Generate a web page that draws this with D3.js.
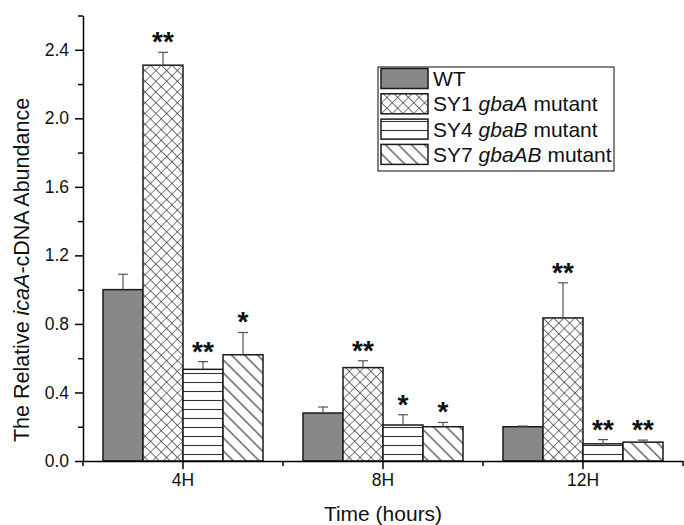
<html>
<head>
<meta charset="utf-8" />
<script src="https://cdn.jsdelivr.net/npm/d3@7"></script>
<style>
  body { margin: 0; background: white; }
  text { font-family: "Liberation Sans", Arial, sans-serif; }
</style>
</head>
<body>
<div id="chart"></div>
<script>
// valeurs
const groups = ["4H", "8H", "12H"];
const seriesKeys = ["WT", "SY1", "SY4", "SY7"];
const seriesLabels = [
  ["WT", "", ""],
  ["SY1 ", "gbaA", " mutant"],
  ["SY4 ", "gbaB", " mutant"],
  ["SY7 ", "gbaAB", " mutant"]
];
const valWT  = [1.00, 0.28, 0.20];
const valSY1 = [2.31, 0.545, 0.835];
const valSY4 = [0.535, 0.21, 0.10];
const valSY7 = [0.62, 0.20, 0.11];
const errWT  = [0.09, 0.035, 0.004];
const errSY1 = [0.075, 0.04, 0.205];
const errSY4 = [0.045, 0.06, 0.025];
const errSY7 = [0.13, 0.025, 0.012];
const starWT  = ["", "", ""];
const starSY1 = ["**", "**", "**"];
const starSY4 = ["**", "*", "**"];
const starSY7 = ["*", "*", "**"];
const yMajor = [0, 0.4, 0.8, 1.2, 1.6, 2.0, 2.4];
const yMinor = [0.2, 0.6, 1.0, 1.4, 1.8, 2.2, 2.6];

const values = [valWT, valSY1, valSY4, valSY7];
const errors = [errWT, errSY1, errSY4, errSY7];
const stars  = [starWT, starSY1, starSY4, starSY7];
const fills  = ["#888888", "url(#cross)", "url(#horiz)", "url(#diag)"];

const width = 684, height = 525;
const mLeft = 83, mRight = 683, mTop = 15.5, mBottom = 461;

const svg = d3.select("#chart").append("svg")
  .attr("width", width).attr("height", height);

// motifs de hachures
const defs = svg.append("defs");
const pCross = defs.append("pattern").attr("id", "cross")
  .attr("patternUnits", "userSpaceOnUse").attr("width", 7.6).attr("height", 7.6)
  .attr("patternTransform", "rotate(45)");
pCross.append("rect").attr("width", 7.6).attr("height", 7.6).attr("fill", "white");
pCross.append("path").attr("d", "M0,0 H7.6 M0,0 V7.6")
  .attr("stroke", "#333").attr("stroke-width", 1.2);

const pHoriz = defs.append("pattern").attr("id", "horiz")
  .attr("patternUnits", "userSpaceOnUse").attr("width", 10).attr("height", 9);
pHoriz.append("rect").attr("width", 10).attr("height", 9).attr("fill", "white");
pHoriz.append("path").attr("d", "M0,4.5 H10")
  .attr("stroke", "#333").attr("stroke-width", 1.1);

const pDiag = defs.append("pattern").attr("id", "diag")
  .attr("patternUnits", "userSpaceOnUse").attr("width", 9.2).attr("height", 9.2)
  .attr("patternTransform", "rotate(45)");
pDiag.append("rect").attr("width", 9.2).attr("height", 9.2).attr("fill", "white");
pDiag.append("path").attr("d", "M0,4.6 H9.2")
  .attr("stroke", "#333").attr("stroke-width", 1.1);

// echelles
const x0 = d3.scaleBand().domain(groups).range([mLeft, mRight]).padding(0);
const x1 = d3.scaleBand().domain(seriesKeys).range([0, x0.bandwidth()])
  .paddingInner(0).paddingOuter(0.5);
const y = d3.scaleLinear().domain([0, 2.6]).range([mBottom, mTop]);

// barres
const rows = [];
seriesKeys.forEach((k, si) => {
  groups.forEach((g, gi) => {
    rows.push({ k: k, si: si, g: g, v: values[si][gi], e: errors[si][gi], s: stars[si][gi] });
  });
});

const bars = svg.append("g");
bars.selectAll("rect").data(rows).enter().append("rect")
  .attr("x", d => x0(d.g) + x1(d.k))
  .attr("y", d => y(d.v))
  .attr("width", x1.bandwidth())
  .attr("height", d => y(0) - y(d.v))
  .attr("fill", d => fills[d.si])
  .attr("stroke", "#1a1a1a")
  .attr("stroke-width", 1.5);

// barres d'erreur
const err = svg.append("g").attr("stroke", "#555").attr("stroke-width", 1.2);
rows.forEach(d => {
  const cx = x0(d.g) + x1(d.k) + x1.bandwidth() / 2;
  err.append("line").attr("x1", cx).attr("x2", cx)
    .attr("y1", y(d.v)).attr("y2", y(d.v + d.e));
  err.append("line").attr("x1", cx - 5).attr("x2", cx + 5)
    .attr("y1", y(d.v + d.e)).attr("y2", y(d.v + d.e));
});

// etoiles
svg.append("g").selectAll("text").data(rows.filter(d => d.s)).enter().append("text")
  .attr("x", d => x0(d.g) + x1(d.k) + x1.bandwidth() / 2)
  .attr("y", d => y(d.v + d.e) - 1)
  .attr("text-anchor", "middle")
  .attr("font-size", 28).attr("font-weight", "bold")
  .attr("fill", "#111")
  .text(d => d.s);

// axes
const yAxis = svg.append("g").attr("transform", "translate(" + mLeft + ",0)")
  .call(d3.axisLeft(y).tickValues(yMajor).tickFormat(d3.format(".1f"))
    .tickSize(8).tickSizeOuter(0).tickPadding(6));
svg.append("g").attr("transform", "translate(" + mLeft + ",0)")
  .call(d3.axisLeft(y).tickValues(yMinor).tickFormat("").tickSize(5).tickSizeOuter(0))
  .select(".domain").remove();
yAxis.selectAll("text").attr("font-size", 17.5).attr("fill", "#111")
  .style("font-family", "Liberation Sans, Arial, sans-serif");

const xAxis = svg.append("g").attr("transform", "translate(0," + mBottom + ")")
  .call(d3.axisBottom(x0).tickSize(8).tickSizeOuter(0).tickPadding(5));
xAxis.selectAll("text").attr("font-size", 17.5).attr("fill", "#111")
  .style("font-family", "Liberation Sans, Arial, sans-serif");
const xMinor = groups.map(g => x0(g)).concat([x0.range()[1]]);
svg.append("g").selectAll("line").data(xMinor).enter().append("line")
  .attr("x1", d => d).attr("x2", d => d)
  .attr("y1", mBottom).attr("y2", mBottom + 5)
  .attr("stroke", "black").attr("stroke-width", 1.5);

svg.selectAll(".domain, .tick line").attr("stroke", "black").attr("stroke-width", 1.5);

// titres
const yt = svg.append("text")
  .attr("transform", "translate(29,270) rotate(-90)")
  .attr("text-anchor", "middle").attr("font-size", 21.5).attr("fill", "#111");
yt.append("tspan").text("The Relative ");
yt.append("tspan").attr("font-style", "italic").text("icaA");
yt.append("tspan").text("-cDNA Abundance");

svg.append("text").attr("x", x0("8H") + x0.bandwidth() / 2).attr("y", 521)
  .attr("text-anchor", "middle").attr("font-size", 21).attr("fill", "#111")
  .text("Time (hours)");

// legende
const legend = svg.append("g");
legend.append("rect").attr("x", 378).attr("y", 67).attr("width", 236).attr("height", 104)
  .attr("fill", "white").attr("stroke", "#333").attr("stroke-width", 1.2);
seriesKeys.forEach((k, i) => {
  const cy = 78.5 + i * 25.3;
  legend.append("rect").attr("x", 381).attr("y", cy - 10).attr("width", 47).attr("height", 20)
    .attr("fill", fills[i]).attr("stroke", "#1a1a1a").attr("stroke-width", 1.5);
  const t = legend.append("text").attr("x", 433).attr("y", cy + 7.5)
    .attr("font-size", 21).attr("fill", "#111");
  t.append("tspan").text(seriesLabels[i][0]);
  if (seriesLabels[i][1]) {
    t.append("tspan").attr("font-style", "italic").text(seriesLabels[i][1]);
    t.append("tspan").text(seriesLabels[i][2]);
  }
});
</script>
</body>
</html>
